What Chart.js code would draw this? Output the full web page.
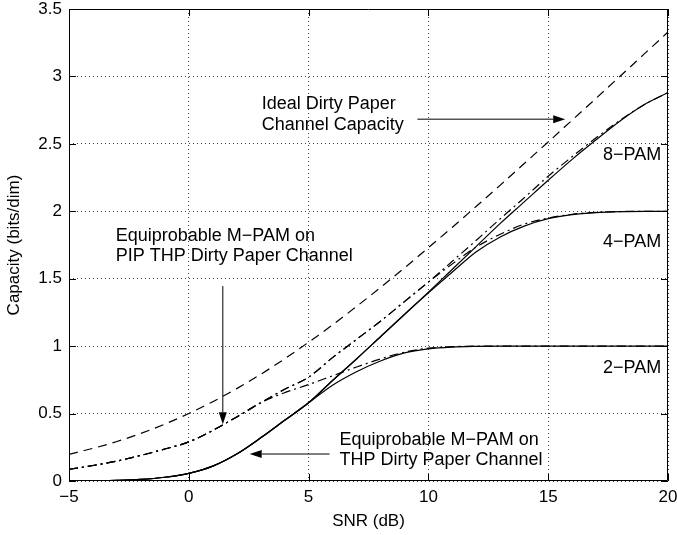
<!DOCTYPE html>
<html>
<head>
<meta charset="utf-8">
<script src="https://cdn.jsdelivr.net/npm/chart.js@4.4.1/dist/chart.umd.min.js"></script>
<style>
body{margin:0;background:#fff}
</style>
</head>
<body>
<canvas id="capChart" width="677" height="535"></canvas>
<script>

// SNR (dB) grid of the curves
const snr = [-5,-4,-3,-2,-1,0,1,2,3,4,5,6,7,8,9,10,11,12,13,14,15,16,17,18,19,20]

// ideal dirty paper capacity (dashed)
const ideal = [0.198,0.242,0.293,0.353,0.422,0.5,0.588,0.685,0.791,0.906,1.029,1.158,1.294,1.435,1.58,1.73,1.882,2.037,2.194,2.354,2.514,2.676,2.838,3.001,3.165,3.329]

// equiprobable M-PAM on THP dirty paper channel (solid)
const thp2 = [0,0.002,0.005,0.012,0.028,0.057,0.11,0.2,0.32,0.45,0.58,0.71,0.81,0.89,0.95,0.98,0.993,0.998,1,1,1,1,1,1,1,1]
const thp4 = [0,0.002,0.005,0.012,0.028,0.057,0.11,0.2,0.32,0.45,0.58,0.745,0.905,1.07,1.235,1.395,1.55,1.7,1.81,1.89,1.945,1.975,1.99,1.997,2,2]
const thp8 = [0,0.002,0.005,0.012,0.028,0.057,0.11,0.2,0.32,0.45,0.58,0.745,0.905,1.07,1.235,1.4,1.57,1.74,1.91,2.07,2.23,2.385,2.53,2.67,2.79,2.88]

// equiprobable M-PAM on PIP THP dirty paper channel (dash-dot)
const pip2 = [0.087,0.115,0.148,0.19,0.237,0.29,0.375,0.475,0.58,0.655,0.715,0.78,0.845,0.905,0.955,0.985,0.996,1,1,1,1,1,1,1,1,1]
const pip4 = [0.087,0.115,0.148,0.19,0.237,0.29,0.375,0.475,0.58,0.68,0.77,0.915,1.05,1.185,1.33,1.475,1.61,1.735,1.83,1.905,1.95,1.978,1.992,1.998,2,2]
const pip8 = [0.087,0.115,0.148,0.19,0.237,0.29,0.375,0.475,0.58,0.68,0.77,0.915,1.05,1.185,1.33,1.475,1.63,1.785,1.945,2.1,2.26,2.405,2.545,2.675,2.79,2.88]

const xTicks = [-5,0,5,10,15,20]
const yTicks = [0,0.5,1,1.5,2,2.5,3,3.5]

const FONT = "'Liberation Sans', Arial, Helvetica, sans-serif"

// text notes and arrows, in data units
const notes = [
{text:'Ideal Dirty Paper',x:3.04,y:2.795},
{text:'Channel Capacity',x:3.04,y:2.639},
{text:'Equiprobable M\u2212PAM on',x:-3.05,y:1.816},
{text:'PIP THP Dirty Paper Channel',x:-3.05,y:1.668},
{text:'Equiprobable M\u2212PAM on',x:6.29,y:0.304},
{text:'THP Dirty Paper Channel',x:6.29,y:0.156},
{text:'8\u2212PAM',x:17.29,y:2.415},
{text:'4\u2212PAM',x:17.29,y:1.77},
{text:'2\u2212PAM',x:17.29,y:0.84}
]

const arrows = [
{x0:9.54,y0:2.683,x1:15.71,y1:2.683},
{x0:1.42,y0:1.445,x1:1.42,y1:0.42},
{x0:5.875,y0:0.2,x1:2.54,y1:0.2}
]

function pts(ys){
return snr.map((x,i)=>({x:x,y:ys[i]}))
}

function serie(ys,dash){
return {
data:pts(ys),
borderColor:'#000',
borderWidth:1.2,
borderDash:dash,
pointRadius:0,
fill:false,
cubicInterpolationMode:'monotone'
}
}

const DASH = [9,6]
const DASHDOT = [9,4,2,4]

const decor = {
id:'decor',
afterDraw(chart){
const ctx = chart.ctx
const a = chart.chartArea
const sx = chart.scales.x
const sy = chart.scales.y
ctx.save()
ctx.strokeStyle = '#000'
ctx.lineWidth = 1
ctx.setLineDash([])

// box
ctx.beginPath()
ctx.rect(Math.round(a.left)+0.5,Math.round(a.top)+0.5,Math.round(a.right-a.left)-1,Math.round(a.bottom-a.top)-1)
ctx.stroke()

// inward ticks
ctx.beginPath()
xTicks.forEach(v=>{
let p = Math.round(sx.getPixelForValue(v))+0.5
ctx.moveTo(p,a.bottom)
ctx.lineTo(p,a.bottom-7)
ctx.moveTo(p,a.top)
ctx.lineTo(p,a.top+7)
})
yTicks.forEach(v=>{
let p = Math.round(sy.getPixelForValue(v))+0.5
ctx.moveTo(a.left,p)
ctx.lineTo(a.left+7,p)
ctx.moveTo(a.right,p)
ctx.lineTo(a.right-7,p)
})
ctx.stroke()

// arrows
ctx.fillStyle = '#000'
arrows.forEach(ar=>{
let x0 = sx.getPixelForValue(ar.x0), y0 = sy.getPixelForValue(ar.y0)
let x1 = sx.getPixelForValue(ar.x1), y1 = sy.getPixelForValue(ar.y1)
let ang = Math.atan2(y1-y0,x1-x0)
let hl = 12, hw = 4
let bx = x1-hl*Math.cos(ang), by = y1-hl*Math.sin(ang)
ctx.beginPath()
ctx.moveTo(x0,y0)
ctx.lineTo(bx,by)
ctx.stroke()
ctx.beginPath()
ctx.moveTo(x1,y1)
ctx.lineTo(bx+hw*Math.sin(ang),by-hw*Math.cos(ang))
ctx.lineTo(bx-hw*Math.sin(ang),by+hw*Math.cos(ang))
ctx.closePath()
ctx.fill()
})

// notes
ctx.font = '18px '+FONT
ctx.textAlign = 'left'
ctx.textBaseline = 'middle'
notes.forEach(n=>{
ctx.fillText(n.text,sx.getPixelForValue(n.x),sy.getPixelForValue(n.y))
})

ctx.restore()
}
}

new Chart(document.getElementById('capChart'),{
type:'line',
data:{
datasets:[
serie(ideal,DASH),
serie(pip2,DASHDOT),
serie(pip4,DASHDOT),
serie(pip8,DASHDOT),
serie(thp2,[]),
serie(thp4,[]),
serie(thp8,[])
]
},
options:{
responsive:false,
animation:false,
devicePixelRatio:1,
layout:{padding:{top:9,right:9,left:0,bottom:0}},
plugins:{legend:{display:false},tooltip:{enabled:false}},
scales:{
x:{
type:'linear',
min:-5,
max:20,
afterBuildTicks:s=>{s.ticks = xTicks.map(v=>({value:v}))},
afterFit:s=>{s.height = 54;s.paddingLeft = 0;s.paddingRight = 0},
ticks:{
color:'#000',
font:{family:FONT,size:17},
padding:6,
maxRotation:0,
callback:v=>String(v).replace('-','\u2212')
},
grid:{color:'#444',lineWidth:1,drawTicks:false},
border:{display:false,dash:[1,3]},
title:{display:true,text:'SNR (dB)',color:'#000',font:{family:FONT,size:17},padding:{top:0,bottom:3}}
},
y:{
type:'linear',
min:0,
max:3.5,
afterBuildTicks:s=>{s.ticks = yTicks.map(v=>({value:v}))},
afterFit:s=>{s.width = 69;s.paddingTop = 0;s.paddingBottom = 0},
ticks:{
color:'#000',
font:{family:FONT,size:17},
padding:7,
callback:v=>String(v)
},
grid:{color:'#444',lineWidth:1,drawTicks:false},
border:{display:false,dash:[1,3]},
title:{display:true,text:'Capacity (bits/dim)',color:'#000',font:{family:FONT,size:17},padding:{top:4,bottom:0}}
}
}
},
plugins:[decor]
})

</script>
</body>
</html>
